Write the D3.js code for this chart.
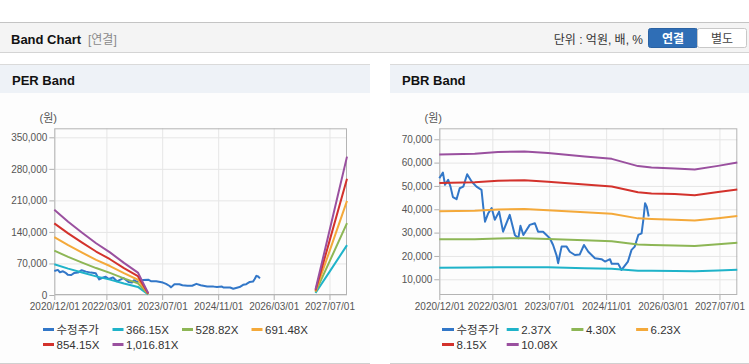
<!DOCTYPE html>
<html><head><meta charset="utf-8">
<script src="https://cdn.jsdelivr.net/npm/d3@7/dist/d3.min.js"></script>
<style>
body{margin:0;background:#fff;}
svg text{font-family:"Liberation Sans","Noto Sans CJK KR",sans-serif;}
</style></head><body>
<svg id="c" width="749" height="364"></svg>
<script>
// ---------- DATA ----------
const xTickDates = ["2020-12-01","2022-03-01","2023-07-01","2024-11-01","2026-03-01","2027-07-01"];
const xDomainDates = ["2020-12-01","2027-12-01"];

const priceDates = ["2020-12-01","2021-01-01","2021-01-19","2021-02-15","2021-03-07","2021-03-28","2021-04-28","2021-05-25","2021-06-25","2021-07-28","2021-09-04","2021-10-16","2021-11-28","2021-12-13","2021-12-28","2022-01-25","2022-02-23","2022-03-22","2022-04-28","2022-06-01","2022-07-28","2022-09-10","2022-10-10","2022-10-28","2022-11-22","2023-01-16","2023-03-01","2023-03-28","2023-05-10","2023-07-07","2023-08-04","2023-09-04","2023-09-16","2023-10-16","2023-11-28","2023-12-25","2024-02-07","2024-03-19","2024-04-25","2024-06-01","2024-07-28","2024-09-22","2024-10-22","2024-12-04","2024-12-19","2025-02-13","2025-03-13","2025-05-07","2025-06-07","2025-07-04","2025-08-04","2025-09-01","2025-09-16","2025-10-01","2025-10-16","2025-11-01"];
const priceValues = [53300,55700,50500,52600,49700,45200,44300,49000,49700,55000,51900,49700,48300,41000,34700,38300,40500,35500,39000,30400,37600,29000,27600,32900,29000,33300,34000,30400,30400,27600,24700,20000,16900,24000,24000,21800,20400,20600,24700,21800,19000,18600,17600,18600,16600,16600,14000,17600,22600,24000,29000,29700,35500,42600,41000,36900];

// PER band (gap = null)
const perBandDates = ["2020-12-01","2021-04-01","2021-08-01","2021-12-01","2022-04-01","2022-08-01","2022-12-01","2023-03-01","2025-01-01","2027-03-01","2027-07-01","2027-12-01"];
const per366  = [68100, 58600, 49800, 41400, 34100, 25600, 17900, 1500, null, 4400, 51300, 110600];
const per528  = [98400, 84600, 71900, 59800, 49200, 37000, 25900, 2100, null, 6300, 74000, 159700];
const per691  = [128600,110600,94000, 78100, 64300, 48400, 33900, 2800, null, 8300, 96800, 208800];
const per854  = [158900,136700,116200,96500, 79400, 59800, 41900, 3400, null, 10200,119600,258000];
const per1016 = [189100,162700,138300,114900,94600, 71200, 49800, 4100, null, 12200,142400,307100];
const perLabels = ["수정주가","366.15X","528.82X","691.48X","854.15X","1,016.81X"];
const perYTicks = [0,70000,140000,210000,280000,350000];
const perYDomain = [0,370000];

// PBR band
const pbrBandDates = ["2020-12-01","2021-10-01","2022-04-18","2022-12-01","2023-06-21","2024-05-01","2024-12-19","2025-08-01","2025-11-25","2026-06-13","2026-12-01","2027-06-19","2027-12-01"];
const pbr237  = [14900,15000,15200,15200,15100,14700,14500,13700,13600,13500,13400,13800,14100];
const pbr430  = [27100,27200,27500,27600,27300,26700,26300,24900,24700,24500,24300,25000,25600];
const pbr623  = [39200,39400,39900,40100,39600,38700,38100,36100,35800,35500,35200,36200,37100];
const pbr815  = [51300,51600,52200,52400,51800,50600,49800,47300,46800,46500,46000,47400,48500];
const pbr1008 = [63500,63800,64500,64800,64100,62600,61600,58500,57900,57500,57000,58600,60000];
const pbrLabels = ["수정주가","2.37X","4.30X","6.23X","8.15X","10.08X"];
const pbrYTicks = [10000,20000,30000,40000,50000,60000,70000];
const pbrYDomain = [3260,74700];

const seriesColors = ["#3277c8","#1fb3c9","#8db655","#f4a93a","#d3322c","#9a509f"];

// ---------- DRAW ----------
const parse = d3.timeParse("%Y-%m-%d");
const svg = d3.select("#c");

// top header bar
svg.append("rect").attr("x",0).attr("y",22).attr("width",749).attr("height",31).attr("fill","#f4f4f4");
svg.append("line").attr("x1",0).attr("x2",749).attr("y1",22.5).attr("y2",22.5).attr("stroke","#c4c4c4");
svg.append("line").attr("x1",0).attr("x2",749).attr("y1",52.5).attr("y2",52.5).attr("stroke","#d4d4d4");
svg.append("text").attr("x",11).attr("y",43.5).attr("font-size",13).attr("font-weight","bold").attr("fill","#111").text("Band Chart");
svg.append("text").attr("x",88).attr("y",43.5).attr("font-size",12).attr("fill","#8a8a8a").text("[연결]");
svg.append("text").attr("x",643).attr("y",43.5).attr("font-size",12).attr("fill","#333").attr("text-anchor","end").text("단위 : 억원, 배, %");
svg.append("rect").attr("x",648.5).attr("y",28.5).attr("width",49).attr("height",19).attr("rx",2).attr("fill","#2f6eb6").attr("stroke","#2a62a3");
svg.append("text").attr("x",673).attr("y",42.5).attr("font-size",12).attr("font-weight","bold").attr("fill","#fff").attr("text-anchor","middle").text("연결");
svg.append("rect").attr("x",697.5).attr("y",28.5).attr("width",49).attr("height",19).attr("rx",2).attr("fill","#fff").attr("stroke","#c8c8c8");
svg.append("text").attr("x",722).attr("y",42.5).attr("font-size",12).attr("fill","#444").attr("text-anchor","middle").text("별도");

function drawChart(cfg){
  const g = svg.append("g");
  // panel
  g.append("rect").attr("x",cfg.px).attr("y",93).attr("width",cfg.pw).attr("height",270).attr("fill","#fdfdfd");
  g.append("rect").attr("x",cfg.px).attr("y",64).attr("width",cfg.pw).attr("height",29).attr("fill","#eef2f7");
  g.append("line").attr("x1",cfg.px).attr("x2",cfg.px+cfg.pw).attr("y1",64.5).attr("y2",64.5).attr("stroke","#dadada");
  g.append("line").attr("x1",cfg.px).attr("x2",cfg.px+cfg.pw).attr("y1",363.5).attr("y2",363.5).attr("stroke","#d0d0d0");
  g.append("text").attr("x",cfg.px+12).attr("y",85).attr("font-size",13).attr("font-weight","bold").attr("fill","#111").text(cfg.title);

  const x = d3.scaleTime().domain(xDomainDates.map(parse)).range([cfg.left,cfg.right]);
  const y = d3.scaleLinear().domain(cfg.yDomain).range([cfg.bottom,cfg.top]);
  const W = cfg.right-cfg.left, H = cfg.bottom-cfg.top;
  const xt = xTickDates.map(parse);

  // grid
  g.append("g").attr("transform",`translate(${cfg.left},0)`)
    .call(d3.axisLeft(y).tickValues(cfg.yTicks).tickSize(-W).tickFormat(""))
    .call(s=>{s.select(".domain").remove(); s.selectAll("line").attr("stroke","#e6e6e6");});
  g.append("g").attr("transform",`translate(0,${cfg.bottom})`)
    .call(d3.axisBottom(x).tickValues(xt).tickSize(-H).tickFormat(""))
    .call(s=>{s.select(".domain").remove(); s.selectAll("line").attr("stroke","#e6e6e6");});

  // axes
  g.append("g").attr("transform",`translate(${cfg.left},0)`)
    .call(d3.axisLeft(y).tickValues(cfg.yTicks).tickSize(5).tickPadding(2).tickFormat(d3.format(",")))
    .call(s=>{s.select(".domain").remove(); s.selectAll("line").attr("stroke","#b0b0b0");
      s.selectAll("text").attr("font-size",10).attr("fill","#555").attr("font-family",null);});
  g.append("g").attr("transform",`translate(0,${cfg.bottom})`)
    .call(d3.axisBottom(x).tickValues(xt).tickSize(5).tickPadding(3).tickFormat(d3.timeFormat("%Y/%m/%d")))
    .call(s=>{s.select(".domain").remove(); s.selectAll("line").attr("stroke","#b0b0b0");
      s.selectAll("text").attr("font-size",10).attr("fill","#555").attr("font-family",null);});

  g.append("rect").attr("x",cfg.left+0.5).attr("y",cfg.top+0.5).attr("width",W-1).attr("height",H-1)
    .attr("fill","none").attr("stroke","#b4b4b4");

  g.append("text").attr("x",cfg.left-6).attr("y",122).attr("font-size",11).attr("fill","#555")
    .attr("text-anchor","middle").text("(원)");

  // lines
  const line = d3.line().defined(d=>d[1]!=null).x(d=>x(d[0])).y(d=>y(d[1]));
  cfg.series.forEach((s,i)=>{
    const pts = s.dates.map((d,k)=>[parse(d), s.values[k]]);
    g.append("path").datum(pts).attr("d",line).attr("fill","none")
      .attr("stroke",seriesColors[i]).attr("stroke-width",2).attr("stroke-linejoin","round");
  });

  // legend
  cfg.labels.forEach((lab,i)=>{
    const col = i%4, row = Math.floor(i/4);
    const lx = cfg.legX + col*cfg.legStep, ly = 329.5 + row*15;
    g.append("line").attr("x1",lx).attr("x2",lx+cfg.mk).attr("y1",ly).attr("y2",ly)
      .attr("stroke",seriesColors[i]).attr("stroke-width",3);
    g.append("text").attr("x",lx+cfg.mk+2.5).attr("y",ly).attr("dy","0.35em").attr("font-size",11.5)
      .attr("fill","#333").text(lab);
  });
}

drawChart({px:0,pw:370,title:"PER Band",left:54.3,right:347,top:128.3,bottom:295,
  yDomain:perYDomain,yTicks:perYTicks,labels:perLabels,legX:43,legStep:69.5,mk:11,
  series:[{dates:priceDates,values:priceValues},{dates:perBandDates,values:per366},{dates:perBandDates,values:per528},
    {dates:perBandDates,values:per691},{dates:perBandDates,values:per854},{dates:perBandDates,values:per1016}]});

drawChart({px:390,pw:359,title:"PBR Band",left:439.3,right:737.3,top:128.3,bottom:295,
  yDomain:pbrYDomain,yTicks:pbrYTicks,labels:pbrLabels,legX:442,legStep:64.7,mk:12,
  series:[{dates:priceDates,values:priceValues},{dates:pbrBandDates,values:pbr237},{dates:pbrBandDates,values:pbr430},
    {dates:pbrBandDates,values:pbr623},{dates:pbrBandDates,values:pbr815},{dates:pbrBandDates,values:pbr1008}]});
</script></body></html>
